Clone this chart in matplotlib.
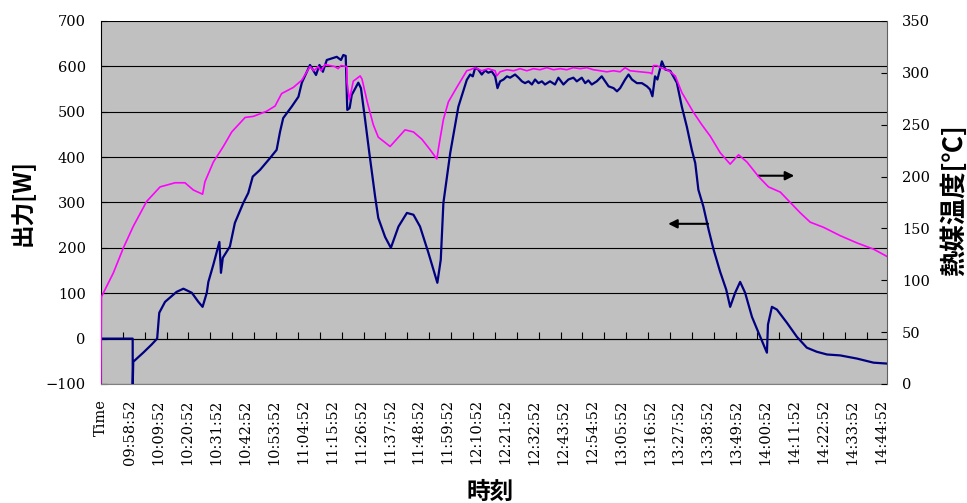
import numpy as np
import matplotlib
matplotlib.use("Agg")
import matplotlib.pyplot as plt

# minutes after the "Time" header row (09:47:52), sampled every 10 s in the source sheet
pow_t = [0, 12.08, 12.1, 12.3, 16.1, 19.3, 21.4, 22.2, 24.4, 28.8,
         31.4, 34.6, 37.1, 38.7, 40.3, 40.9, 42.8, 45.1, 45.7, 46.4,
         49.1, 51.0, 54.2, 56.1, 57.8, 60.6, 64.4, 66.9, 68.2, 69.4,
         72.6, 75.2, 76.5, 79.6, 81.9, 83.2, 84.5, 86.0, 89.8, 91.4,
         92.3, 93.2, 93.8, 94.7, 95.5, 98.0, 99.0, 100.6, 102.2, 104.4,
         105.6, 108.2, 110.4, 113.3, 116.5, 119.0, 121.5, 124.7, 128.1, 129.4,
         130.4, 133.0, 136.1, 139.3, 140.6, 141.6, 142.5, 143.7, 145.0, 146.3,
         147.5, 148.8, 150.1, 151.0, 152.0, 153.3, 154.6, 155.8, 157.7, 159.0,
         160.3, 161.5, 162.8, 164.1, 165.3, 166.6, 167.9, 169.1, 171.0, 172.9,
         174.2, 176.1, 178.0, 179.9, 181.2, 183.1, 184.4, 185.6, 186.9, 188.8,
         190.7, 192.0, 193.3, 195.2, 196.5, 197.7, 199.6, 200.9, 202.2, 204.1,
         206.0, 207.9, 209.1, 210.0, 211.0, 211.9, 213.0, 213.6, 214.9, 216.8,
         219.3, 221.2, 223.1, 225.0, 226.3, 227.5, 229.4, 231.4, 233.3, 235.8,
         238.1, 239.6, 241.5, 243.4, 245.3, 247.9, 250.4, 253.6, 254.0, 255.5,
         257.4, 261.2, 265.0, 268.8, 272.6, 276.5, 281.5, 287.9, 294.2, 299.3]
pow_w = [0, 0, -100, -51, -31, -13, 0, 57, 81, 103,
         110, 101, 81, 70, 101, 125, 163, 213, 145, 178,
         203, 255, 299, 321, 357, 372, 398, 416, 456, 486,
         511, 533, 564, 603, 581, 603, 588, 614, 621, 614,
         625, 623, 504, 508, 537, 564, 552, 482, 409, 313,
         266, 224, 200, 247, 277, 273, 247, 189, 123, 174,
         299, 409, 511, 570, 582, 578, 597, 593, 582, 591,
         586, 589, 578, 552, 567, 571, 578, 575, 582, 575,
         567, 563, 567, 560, 571, 563, 567, 560, 567, 560,
         575, 560, 571, 575, 567, 575, 563, 569, 560, 567,
         578, 567, 556, 552, 545, 552, 571, 582, 571, 563,
         563, 556, 549, 534, 578, 571, 597, 611, 593, 590,
         564, 511, 467, 416, 387, 328, 291, 240, 196, 147,
         108, 70, 101, 125, 101, 48, 13, -31, 31, 70,
         64, 35, 4, -20, -29, -35, -37, -44, -53, -55]

temp_t = [0, 0.17, 4.7, 8.5, 12.3, 17.4, 22.5, 28.2, 32.0, 35.2,
          38.7, 39.6, 42.8, 46.6, 49.8, 54.9, 58.0, 63.1, 66.3, 68.8,
          73.3, 76.5, 79.6, 81.1, 82.7, 83.8, 85.3, 89.1, 90.3, 91.4,
          93.6, 93.7, 94.6, 96.1, 98.7, 99.4, 101.4, 103.7, 105.6, 110.1,
          112.6, 115.8, 119.0, 122.2, 125.3, 127.9, 128.9, 130.4, 132.3, 135.5,
          139.3, 140.6, 142.5, 145.0, 147.5, 150.1, 150.7, 152.0, 154.6, 157.1,
          159.6, 162.2, 164.7, 167.2, 169.8, 172.3, 174.9, 177.4, 179.9, 182.5,
          185.0, 187.5, 190.1, 192.6, 195.2, 197.7, 199.6, 201.5, 205.3, 209.1,
          209.8, 210.4, 211.7, 213.0, 215.5, 216.8, 218.7, 221.2, 225.6, 228.8,
          232.0, 235.8, 239.6, 242.8, 246.0, 250.4, 254.2, 258.7, 262.5, 266.3,
          270.1, 275.2, 281.5, 287.9, 294.2, 299.3]
temp_c = [0, 84, 107, 131, 152, 176, 190, 194, 194, 187,
          183, 195, 214, 229, 243, 257, 258, 263, 268, 280,
          286, 293, 306, 302, 306, 302, 308, 306, 304, 307,
          306, 291, 274, 292, 297, 294, 272, 250, 238, 229,
          236, 245, 243, 236, 226, 217, 233, 255, 272, 286,
          302, 303, 305, 302, 304, 302, 297, 301, 303, 302,
          304, 302, 304, 303, 305, 303, 304, 303, 305, 304,
          305, 303, 302, 301, 302, 301, 305, 302, 301, 300,
          299, 307, 307, 305, 303, 301, 297, 281, 262, 250,
          239, 223, 212, 221, 214, 200, 190, 185, 175, 165,
          156, 151, 143, 136, 130, 123]

time_labels = ["Time", "09:58:52", "10:09:52", "10:20:52", "10:31:52", "10:42:52",
               "10:53:52", "11:04:52", "11:15:52", "11:26:52", "11:37:52",
               "11:48:52", "11:59:52", "12:10:52", "12:21:52", "12:32:52",
               "12:43:52", "12:54:52", "13:05:52", "13:16:52", "13:27:52",
               "13:38:52", "13:49:52", "14:00:52", "14:11:52", "14:22:52",
               "14:33:52", "14:44:52"]

num_font = "DejaVu Serif"
jp_font = ["Noto Sans CJK JP", "DejaVu Sans"]

fig = plt.figure(figsize=(9.67, 5.03), dpi=100)
ax = fig.add_axes([0.1044, 0.2366, 0.8128, 0.7217])
ax.set_facecolor("#C0C0C0")

ax.plot(pow_t, pow_w, color="#000080", lw=1.6, zorder=3)
ax.set_xlim(0, 299.3)
ax.set_ylim(-100, 700)
ax.set_yticks(range(-100, 701, 100))
ax.yaxis.grid(True, color="black", lw=0.8)
ax.set_axisbelow(True)

# labels every 66 samples (11 min)
ax.set_xticks([11 * i for i in range(len(time_labels))], time_labels, rotation=90)
ax.tick_params(axis="x", length=0, pad=11)
ax.tick_params(axis="y", direction="in", length=4, pad=11)
for lab in ax.get_xticklabels() + ax.get_yticklabels():
    lab.set_family(num_font)
    lab.set_fontsize(10.5)

ax.spines["top"].set_visible(False)
ax.spines["right"].set_visible(False)
ax.spines["left"].set_color("black")
ax.spines["bottom"].set_color("#808080")

# category axis line crosses at 0 W, tick marks every 50 samples
zero_ax = ax.secondary_xaxis(0.125)
zero_ax.set_xticks(np.arange(25 / 3, 299.3, 25 / 3))
zero_ax.tick_params(direction="in", length=5, labelbottom=False, color="black")
zero_ax.spines["bottom"].set_color("black")

ax2 = ax.twinx()
ax2.plot(temp_t, temp_c, color="#FF00FF", lw=1.2, zorder=3)
ax2.set_ylim(0, 350)
ax2.set_yticks(range(0, 351, 50))
ax2.tick_params(axis="y", direction="in", length=4, pad=11)
for lab in ax2.get_yticklabels():
    lab.set_family(num_font)
    lab.set_fontsize(10.5)
for s in ["top", "left", "bottom"]:
    ax2.spines[s].set_visible(False)
ax2.spines["right"].set_color("#606060")

arrow = dict(arrowstyle="-|>", color="black", lw=1.5, mutation_scale=13,
             shrinkA=0, shrinkB=0)
ax.annotate("", xy=(216.0, 253), xytext=(231.2, 253), arrowprops=arrow, zorder=5)
ax.annotate("", xy=(264.0, 359), xytext=(250.3, 359), arrowprops=arrow, zorder=5)

fig.text(22 / 967, 1 - 203 / 503, "出力[W]", rotation=90, ha="center", va="center",
         family=jp_font, fontsize=17, fontweight="bold")
fig.text(955 / 967, 1 - 200 / 503, "熱媒温度[℃]", rotation=90, ha="center", va="center",
         family=jp_font, fontsize=19, fontweight="bold")
fig.text(490 / 967, 1 - 492 / 503, "時刻", ha="center", va="center",
         family=jp_font, fontsize=17, fontweight="bold")

fig.savefig("out.png", dpi=100)
